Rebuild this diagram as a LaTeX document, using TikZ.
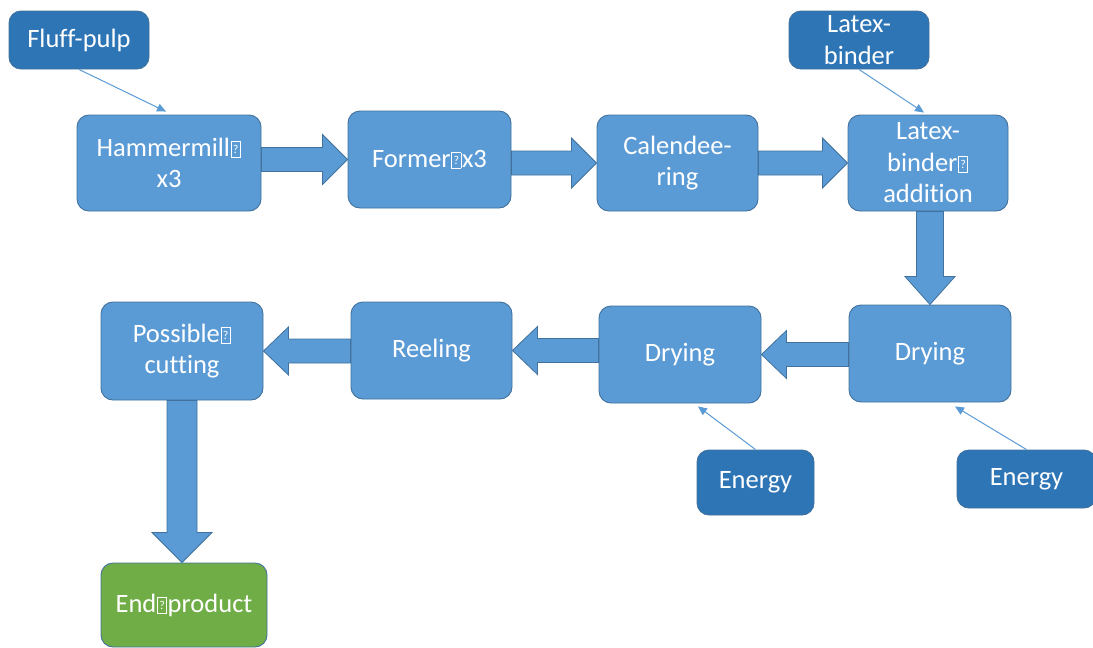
\documentclass[tikz,border=0pt]{standalone}
\usepackage{fontspec}
\setmainfont{Carlito}[Ligatures={NoCommon}]
\usetikzlibrary{calc,arrows.meta}
\definecolor{procfill}{HTML}{5B9BD5}
\definecolor{inputfill}{HTML}{2E75B6}
\definecolor{edgeblue}{HTML}{41719C}
\definecolor{endfill}{HTML}{70AD47}
% placeholder glyph box as printed in the labels
\newcommand\nog{\kern0.6pt{\setlength\fboxsep{0.6pt}\setlength\fboxrule{0.7pt}\fbox{\vbox to 14pt{\vss\hbox to 7.5pt{\hss\fontsize{12}{12}\selectfont ?\hss}\vss}}}\kern0.6pt}
\tikzset{
  basebox/.style={draw=edgeblue, line width=0.9pt, rounded corners=12pt, text=white,
    align=center, inner sep=0pt, font=\fontsize{26.5}{31.5}\selectfont},
  proc/.style={basebox, fill=procfill},
  inbox/.style={basebox, fill=inputfill},
  endbox/.style={basebox, fill=endfill},
  blk/.style={fill=procfill, draw=edgeblue, line width=0.8pt, line join=miter},
  feed/.style={draw=procfill, line width=1pt, -{Triangle[length=9pt,width=8pt]}},
}
\begin{document}
\begin{tikzpicture}[x=1pt,y=-1pt]
\useasboundingbox (0,0) rectangle (1093,648);
% process boxes
\node[proc, minimum width=184pt, minimum height=96pt] (hm)  at (169,163)   {Hammermill\nog\\x3};
\node[proc, minimum width=163pt, minimum height=97pt] (fm)  at (429.5,159.5) {Former\nog x3};
\node[proc, minimum width=161pt, minimum height=96pt] (cal) at (677.5,163) {Calendee-\\ring};
\node[proc, minimum width=160pt, minimum height=96pt] (lba) at (928,163)   {Latex-\\binder\nog\\addition};
\node[proc, minimum width=162pt, minimum height=97pt] (d2)  at (930,353.5) {Drying};
\node[proc, minimum width=162pt, minimum height=97pt] (d1)  at (680,354.5) {Drying};
\node[proc, minimum width=161pt, minimum height=97pt] (rl)  at (431.5,350.5) {Reeling};
\node[proc, minimum width=162pt, minimum height=98pt] (pc)  at (182,351)   {Possible\nog\\cutting};
\node[endbox, minimum width=166pt, minimum height=84pt] (ep) at (184,605)  {End\nog product};
% inputs
\node[inbox, minimum width=140pt, minimum height=58pt] (fp) at (79,40)     {Fluff-pulp};
\node[inbox, minimum width=140pt, minimum height=58pt] (lb) at (859,40)    {Latex-\\binder};
\node[inbox, minimum width=117pt, minimum height=65pt] (e1) at (755.5,482.5) {Energy};
\node[inbox, minimum width=139pt, minimum height=58pt] (e2) at (1026.5,479) {Energy};
% block arrows pointing right
\foreach \a/\b in {hm/fm, fm/cal, cal/lba}{
  \draw[blk] let \p1=(\a.east), \p2=(\b.west) in
    (\x1,\y2+12pt) -- (\x2-25pt,\y2+12pt) -- (\x2-25pt,\y2+25pt) -- (\x2,\y2)
    -- (\x2-25pt,\y2-25pt) -- (\x2-25pt,\y2-12pt) -- (\x1,\y2-12pt) -- cycle;
}
% block arrows pointing left
\foreach \a/\b in {d2/d1, d1/rl, rl/pc}{
  \draw[blk] let \p1=(\a.west), \p2=(\b.east) in
    (\x1,\y2+12pt) -- (\x2+25pt,\y2+12pt) -- (\x2+25pt,\y2+24pt) -- (\x2,\y2)
    -- (\x2+25pt,\y2-24pt) -- (\x2+25pt,\y2-12pt) -- (\x1,\y2-12pt) -- cycle;
}
% block arrows pointing down
\draw[blk] let \p1=(lba.south), \p2=(d2.north) in
  (\x2-13.5pt,\y1) -- (\x2-13.5pt,\y2+28pt) -- (\x2-25pt,\y2+28pt) -- (\x2,\y2)
  -- (\x2+25pt,\y2+28pt) -- (\x2+13.5pt,\y2+28pt) -- (\x2+13.5pt,\y1) -- cycle;
\draw[blk] let \p1=(pc.south), \p2=(ep.north) in
  (\x1-15pt,\y1) -- (\x1-15pt,\y2+30pt) -- (\x1-30pt,\y2+30pt) -- (\x1,\y2)
  -- (\x1+30pt,\y2+30pt) -- (\x1+15pt,\y2+30pt) -- (\x1+15pt,\y1) -- cycle;
% feed lines
\draw[feed] (fp.south) -- ([xshift=-3pt,yshift=3pt]hm.north);
\draw[feed] (lb.south) -- ([xshift=-4pt,yshift=2pt]lba.north);
\draw[feed] (e1.north) -- ([xshift=18pt,yshift=-3pt]d1.south);
\draw[feed] (e2.north) -- ([xshift=25pt,yshift=-4pt]d2.south);
\end{tikzpicture}
\end{document}
